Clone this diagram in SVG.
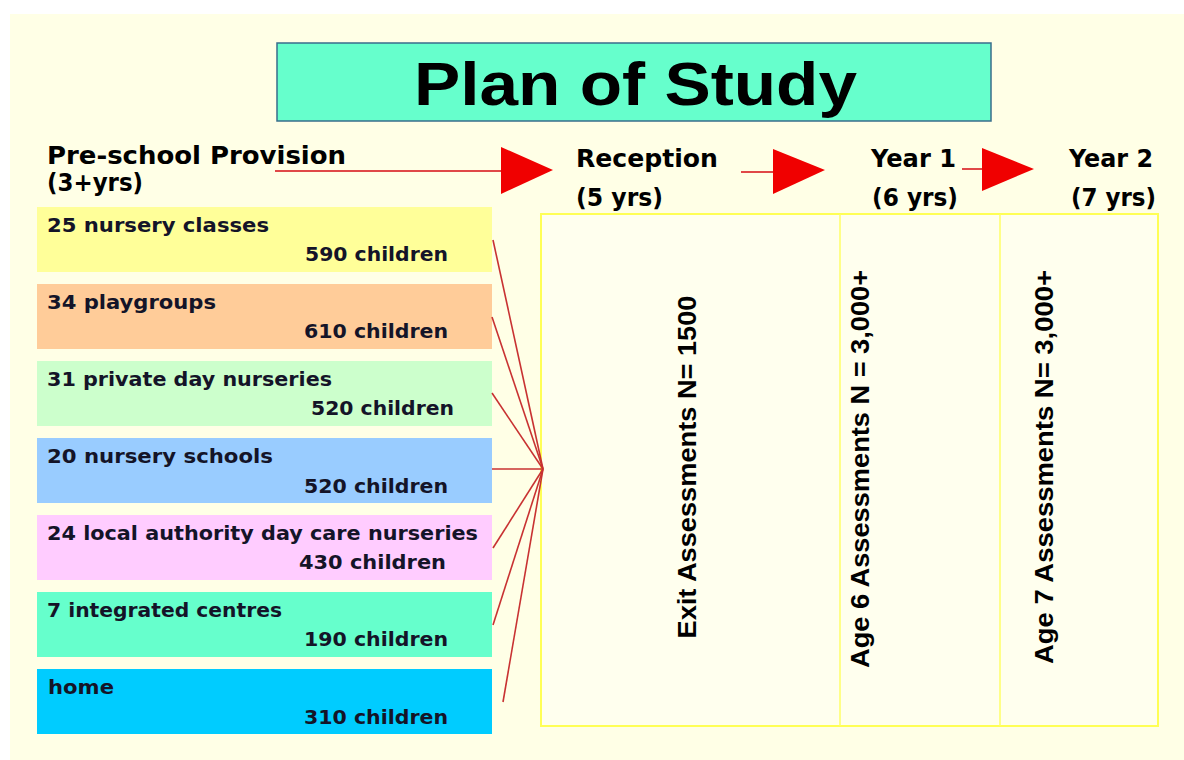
<svg xmlns="http://www.w3.org/2000/svg" width="1184" height="760" viewBox="0 0 1184 760">
<style>
.hdr{font-family:"DejaVu Sans",Verdana,sans-serif;font-weight:bold;font-size:24px;fill:#000}
.lbl{font-family:"DejaVu Sans",Verdana,sans-serif;font-weight:bold;font-size:20px;fill:#141428}
.vt{font-family:"Liberation Sans",Arial,sans-serif;font-weight:bold;font-size:26px;fill:#000}
.box{stroke:none}
.fan{stroke:#C83232;stroke-width:1.6;fill:none}
.arr{fill:#F00000;stroke:none}
.shaft{stroke:#E04848;stroke-width:2;fill:none}
.panel{fill:#FFFFEE;stroke:#FFFF55;stroke-width:2}
.div{stroke:#FFFF66;stroke-width:1.5}
</style>
<rect x="0" y="0" width="1184" height="760" fill="#FFFFFF"/>
<rect x="10" y="14" width="1174" height="746" fill="#FFFFE6"/>

<g id="title">
<rect x="277" y="43" width="714" height="78" fill="#66FFCC" stroke="#3A6E8C" stroke-width="1.5"/>
<text x="414" y="105" font-family="Liberation Sans, Arial, sans-serif" font-weight="bold" font-size="61" textLength="443" lengthAdjust="spacingAndGlyphs" fill="#000">Plan of Study</text>
</g>

<g id="headers">
<text class="hdr" x="47" y="164" font-size="23" textLength="299" lengthAdjust="spacingAndGlyphs">Pre-school Provision</text>
<text class="hdr" x="47" y="191" font-size="22" textLength="96" lengthAdjust="spacingAndGlyphs">(3+yrs)</text>
<text class="hdr" x="576" y="167" textLength="142" lengthAdjust="spacingAndGlyphs">Reception</text>
<text class="hdr" x="576" y="206" textLength="87" lengthAdjust="spacingAndGlyphs">(5 yrs)</text>
<text class="hdr" x="871" y="167" textLength="85" lengthAdjust="spacingAndGlyphs">Year 1</text>
<text class="hdr" x="872" y="206" textLength="86" lengthAdjust="spacingAndGlyphs">(6 yrs)</text>
<text class="hdr" x="1069" y="167" textLength="84" lengthAdjust="spacingAndGlyphs">Year 2</text>
<text class="hdr" x="1071" y="206" textLength="85" lengthAdjust="spacingAndGlyphs">(7 yrs)</text>
</g>

<g id="node-nursery-classes">
<rect class="box" x="37" y="207" width="455" height="65" fill="#FFFF99"/>
<text class="lbl" x="47" y="232" textLength="222" lengthAdjust="spacingAndGlyphs">25 nursery classes</text>
<text class="lbl" x="305" y="261" textLength="143" lengthAdjust="spacingAndGlyphs">590 children</text>
</g>
<g id="node-playgroups">
<rect class="box" x="37" y="284" width="455" height="65" fill="#FFCC99"/>
<text class="lbl" x="47" y="309" textLength="169" lengthAdjust="spacingAndGlyphs">34 playgroups</text>
<text class="lbl" x="304" y="338" textLength="144" lengthAdjust="spacingAndGlyphs">610 children</text>
</g>
<g id="node-private-day-nurseries">
<rect class="box" x="37" y="361" width="455" height="65" fill="#CCFFCC"/>
<text class="lbl" x="47" y="386" textLength="285" lengthAdjust="spacingAndGlyphs">31 private day nurseries</text>
<text class="lbl" x="311" y="415" textLength="143" lengthAdjust="spacingAndGlyphs">520 children</text>
</g>
<g id="node-nursery-schools">
<rect class="box" x="37" y="438" width="455" height="65" fill="#99CCFF"/>
<text class="lbl" x="47" y="463" textLength="226" lengthAdjust="spacingAndGlyphs">20 nursery schools</text>
<text class="lbl" x="304" y="493" textLength="144" lengthAdjust="spacingAndGlyphs">520 children</text>
</g>
<g id="node-local-authority">
<rect class="box" x="37" y="515" width="455" height="65" fill="#FFCCFF"/>
<text class="lbl" x="47" y="540" textLength="431" lengthAdjust="spacingAndGlyphs">24 local authority day care nurseries</text>
<text class="lbl" x="299" y="569" textLength="147" lengthAdjust="spacingAndGlyphs">430 children</text>
</g>
<g id="node-integrated-centres">
<rect class="box" x="37" y="592" width="455" height="65" fill="#66FFCC"/>
<text class="lbl" x="47" y="617" textLength="235" lengthAdjust="spacingAndGlyphs">7 integrated centres</text>
<text class="lbl" x="304" y="646" textLength="144" lengthAdjust="spacingAndGlyphs">190 children</text>
</g>
<g id="node-home">
<rect class="box" x="37" y="669" width="455" height="65" fill="#00CCFF"/>
<text class="lbl" x="48" y="694" textLength="66" lengthAdjust="spacingAndGlyphs">home</text>
<text class="lbl" x="304" y="724" textLength="144" lengthAdjust="spacingAndGlyphs">310 children</text>
</g>

<g id="panel">
<rect class="panel" x="541" y="214" width="617" height="512"/>
<line class="div" x1="840" y1="214" x2="840" y2="726"/>
<line class="div" x1="1000" y1="214" x2="1000" y2="726"/>
</g>
<g id="node-exit">
<text class="vt" transform="translate(696,467) rotate(-90)" text-anchor="middle" textLength="343" lengthAdjust="spacingAndGlyphs">Exit Assessments N= 1500</text>
</g>
<g id="node-age6">
<text class="vt" transform="translate(869,469) rotate(-90)" text-anchor="middle" textLength="398" lengthAdjust="spacingAndGlyphs">Age 6 Assessments N = 3,000+</text>
</g>
<g id="node-age7">
<text class="vt" transform="translate(1053,467) rotate(-90)" text-anchor="middle" textLength="394" lengthAdjust="spacingAndGlyphs">Age 7 Assessments N= 3,000+</text>
</g>

<g id="connectors">
<line class="shaft" x1="275" y1="171" x2="503" y2="171"/>
<polygon class="arr" points="501,147 501,194 553,170"/>
<line class="shaft" x1="741" y1="172" x2="775" y2="172"/>
<polygon class="arr" points="773,149 773,194 825,170"/>
<line class="shaft" x1="962" y1="169" x2="984" y2="169"/>
<polygon class="arr" points="982,148 982,191 1034,169"/>
<line class="fan" x1="493" y1="240" x2="543" y2="469"/>
<line class="fan" x1="492" y1="317" x2="543" y2="469"/>
<line class="fan" x1="492" y1="393" x2="543" y2="469"/>
<line class="fan" x1="492" y1="469" x2="543" y2="469"/>
<line class="fan" x1="493" y1="548" x2="543" y2="469"/>
<line class="fan" x1="493" y1="625" x2="543" y2="469"/>
<line class="fan" x1="503" y1="702" x2="543" y2="469"/>
</g>
</svg>
